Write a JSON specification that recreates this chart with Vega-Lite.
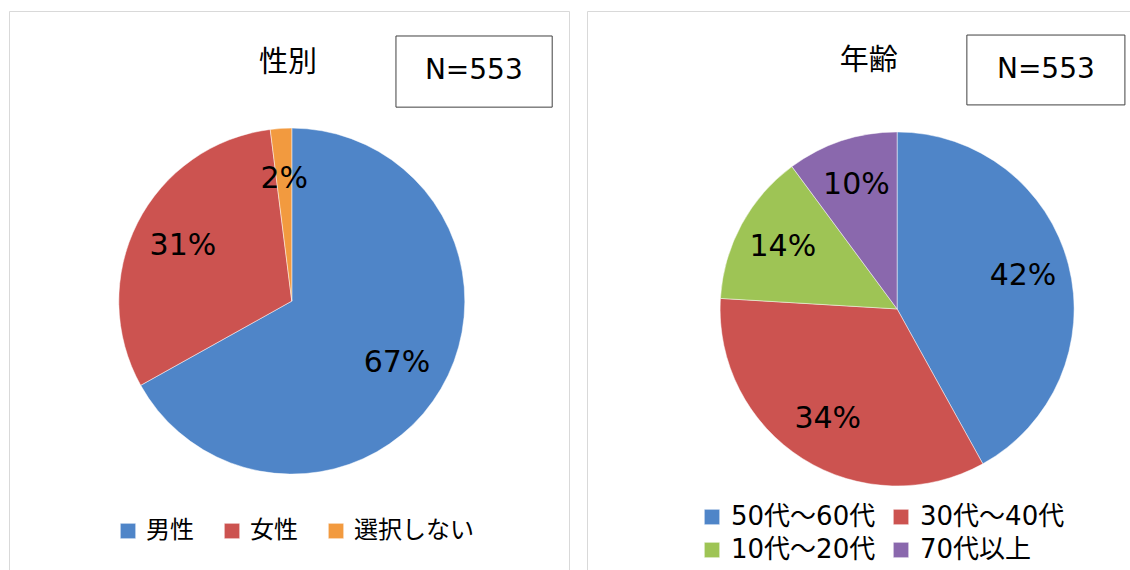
{
  "$schema": "https://vega.github.io/schema/vega-lite/v6.json",
  "background": "white",
  "padding": {"left": 8, "top": 10, "right": 0, "bottom": 0},
  "spacing": 16,
  "resolve": {"scale": {"color": "independent"}, "legend": {"color": "independent"}},
  "config": {
    "view": {"stroke": "#d9d9d9", "strokeWidth": 1},
    "legend": {
      "labelFont": "DejaVu Sans, Noto Sans CJK JP",
      "labelFontSize": 24,
      "labelColor": "#000000",
      "symbolType": "square",
      "symbolSize": 240,
      "symbolStrokeWidth": 0.6,
      "labelOffset": 6,
      "columnPadding": 20,
      "rowPadding": 8,
      "labelLimit": 400,
      "gridAlign": "each"
    }
  },
  "datasets": {
    "gender": [
      {"category": "男性", "count": 370, "i": 1, "pct": "67%"},
      {"category": "女性", "count": 172, "i": 2, "pct": "31%"},
      {"category": "選択しない", "count": 11, "i": 3, "pct": "2%"}
    ],
    "age": [
      {"category": "50代～60代", "count": 232, "i": 1, "pct": "42%"},
      {"category": "30代～40代", "count": 188, "i": 2, "pct": "34%"},
      {"category": "10代～20代", "count": 77, "i": 3, "pct": "14%"},
      {"category": "70代以上", "count": 56, "i": 4, "pct": "10%"}
    ]
  },
  "hconcat": [
    {
      "width": 560,
      "height": 559,
      "layer": [
        {
          "data": {"name": "gender"},
          "mark": {"type": "arc", "outerRadius": 173, "stroke": "#ffffff", "strokeWidth": 0.8, "strokeOpacity": 0.6},
          "encoding": {
            "theta": {"field": "count", "type": "quantitative", "stack": true},
            "order": {"field": "i", "type": "quantitative"},
            "color": {
              "field": "category", "type": "nominal",
              "scale": {"domain": ["男性", "女性", "選択しない"], "range": ["#4f85c8", "#cc5350", "#f29a3f"]},
              "legend": {"title": null, "orient": "none", "legendX": 107, "legendY": 508, "direction": "horizontal", "columns": 3, "columnPadding": 26}
            },
            "x": {"datum": 50.5, "type": "quantitative", "scale": {"domain": [0, 100]}, "axis": null},
            "y": {"datum": 51.9, "type": "quantitative", "scale": {"domain": [0, 100], "reverse": true}, "axis": null}
          }
        },
        {
          "data": {"name": "gender"},
          "mark": {"type": "text", "radius": 122, "font": "DejaVu Sans", "fontSize": 30, "color": "#000000"},
          "encoding": {
            "theta": {"field": "count", "type": "quantitative", "stack": true},
            "order": {"field": "i", "type": "quantitative"},
            "text": {"field": "pct", "type": "nominal"},
            "x": {"datum": 50.5, "type": "quantitative"},
            "y": {"datum": 51.9, "type": "quantitative"}
          }
        },
        {
          "data": {"values": [{"t": "性別"}]},
          "mark": {"type": "text", "font": "Noto Sans CJK JP", "fontSize": 29, "color": "#000000", "baseline": "middle"},
          "encoding": {
            "text": {"field": "t", "type": "nominal"},
            "x": {"datum": 49.8, "type": "quantitative"},
            "y": {"datum": 9.3, "type": "quantitative"}
          }
        },
        {
          "data": {"values": [{"t": "N=553"}]},
          "mark": {"type": "rect", "fill": "#ffffff", "stroke": "#404040", "strokeWidth": 1},
          "encoding": {
            "x": {"datum": 69.1, "type": "quantitative"},
            "x2": {"datum": 97.0},
            "y": {"datum": 4.47, "type": "quantitative"},
            "y2": {"datum": 17.2}
          }
        },
        {
          "data": {"values": [{"t": "N=553"}]},
          "mark": {"type": "text", "font": "DejaVu Sans", "fontSize": 28, "color": "#000000", "baseline": "middle"},
          "encoding": {
            "text": {"field": "t", "type": "nominal"},
            "x": {"datum": 83.0, "type": "quantitative"},
            "y": {"datum": 10.8, "type": "quantitative"}
          }
        }
      ]
    },
    {
      "width": 545,
      "height": 559,
      "layer": [
        {
          "data": {"name": "age"},
          "mark": {"type": "arc", "outerRadius": 177, "stroke": "#ffffff", "strokeWidth": 0.8, "strokeOpacity": 0.6},
          "encoding": {
            "theta": {"field": "count", "type": "quantitative", "stack": true},
            "order": {"field": "i", "type": "quantitative"},
            "color": {
              "field": "category", "type": "nominal",
              "scale": {"domain": ["50代～60代", "30代～40代", "10代～20代", "70代以上"], "range": ["#4f85c8", "#cc5350", "#9ec455", "#8a68ad"]},
              "legend": {"title": null, "orient": "none", "legendX": 112, "legendY": 493, "direction": "horizontal", "columns": 2, "labelFontSize": 26, "columnPadding": 12, "rowPadding": 7}
            },
            "x": {"datum": 56.9, "type": "quantitative", "scale": {"domain": [0, 100]}, "axis": null},
            "y": {"datum": 53.3, "type": "quantitative", "scale": {"domain": [0, 100], "reverse": true}, "axis": null}
          }
        },
        {
          "data": {"name": "age"},
          "mark": {"type": "text", "radius": 130, "font": "DejaVu Sans", "fontSize": 30, "color": "#000000"},
          "encoding": {
            "theta": {"field": "count", "type": "quantitative", "stack": true},
            "order": {"field": "i", "type": "quantitative"},
            "text": {"field": "pct", "type": "nominal"},
            "x": {"datum": 56.9, "type": "quantitative"},
            "y": {"datum": 53.3, "type": "quantitative"}
          }
        },
        {
          "data": {"values": [{"t": "年齢"}]},
          "mark": {"type": "text", "font": "Noto Sans CJK JP", "fontSize": 29, "color": "#000000", "baseline": "middle"},
          "encoding": {
            "text": {"field": "t", "type": "nominal"},
            "x": {"datum": 51.7, "type": "quantitative"},
            "y": {"datum": 8.9, "type": "quantitative"}
          }
        },
        {
          "data": {"values": [{"t": "N=553"}]},
          "mark": {"type": "rect", "fill": "#ffffff", "stroke": "#404040", "strokeWidth": 1},
          "encoding": {
            "x": {"datum": 69.7, "type": "quantitative"},
            "x2": {"datum": 98.7},
            "y": {"datum": 4.3, "type": "quantitative"},
            "y2": {"datum": 16.8}
          }
        },
        {
          "data": {"values": [{"t": "N=553"}]},
          "mark": {"type": "text", "font": "DejaVu Sans", "fontSize": 28, "color": "#000000", "baseline": "middle"},
          "encoding": {
            "text": {"field": "t", "type": "nominal"},
            "x": {"datum": 84.2, "type": "quantitative"},
            "y": {"datum": 10.6, "type": "quantitative"}
          }
        }
      ]
    }
  ]
}
